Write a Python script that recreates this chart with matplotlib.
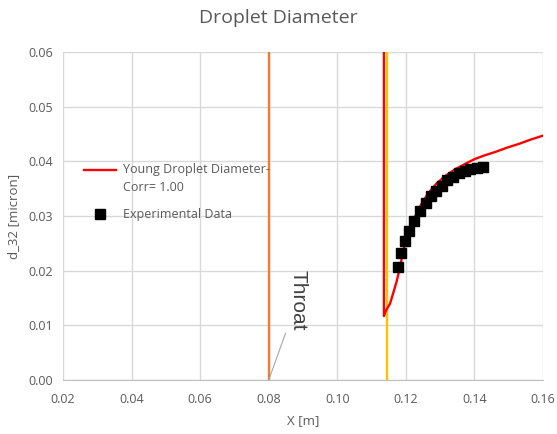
import matplotlib.pyplot as plt
import matplotlib.lines as mlines

plt.rcParams['font.family'] = ['Open Sans', 'DejaVu Sans']

# Young droplet diameter model curve (after condensation onset)
young_x = [0.1140, 0.1154, 0.1163, 0.1173, 0.1183, 0.1193, 0.1207, 0.1227,
           0.1246, 0.1266, 0.1290, 0.1319, 0.1345, 0.1375, 0.1400, 0.1430,
           0.1460, 0.1495, 0.1530, 0.1565, 0.1600]
young_d = [0.0125, 0.0140, 0.0159, 0.0180, 0.0207, 0.0238, 0.0268, 0.0299,
           0.0323, 0.0342, 0.0360, 0.0375, 0.0386, 0.0396, 0.0404, 0.0411,
           0.0417, 0.0425, 0.0432, 0.0440, 0.0447]
# Vertical part of the model curve at the onset
young_jump_x = [0.1136, 0.1136, 0.1140]
young_jump_d = [0.0600, 0.0117, 0.0125]

# Experimental d_32 measurements
exp_x = [0.1176, 0.1186, 0.1197, 0.1209, 0.1224, 0.1241, 0.1258, 0.1273,
         0.1289, 0.1304, 0.1321, 0.1338, 0.1355, 0.1371, 0.1388, 0.1406, 0.1424]
exp_d = [0.0206, 0.0232, 0.0254, 0.0273, 0.0291, 0.0309, 0.0324, 0.0337,
         0.0346, 0.0355, 0.0365, 0.0372, 0.0378, 0.0382, 0.0386, 0.0388, 0.0390]

throat_x = 0.08
onset_x = 0.1145

x_ticks = [0.02, 0.04, 0.06, 0.08, 0.10, 0.12, 0.14, 0.16]
y_ticks = [0.00, 0.01, 0.02, 0.03, 0.04, 0.05, 0.06]

text_color = '#595959'
grid_color = '#d9d9d9'

fig = plt.figure(figsize=(5.57, 4.34), dpi=100)
ax = fig.add_axes([0.1131, 0.1244, 0.8618, 0.7558])

ax.axvline(throat_x, color='#ED7D31', lw=1.7, zorder=3)
ax.axvline(onset_x, color='#FFC000', lw=1.7, zorder=3)
ax.plot(young_jump_x, young_jump_d, color='#FF0000', lw=1.7, zorder=4)
ax.plot(young_x, young_d, color='#FF0000', lw=1.7, zorder=4)
ax.plot(exp_x, exp_d, 's', color='black', ms=6.5, ls='none', zorder=5)

ax.set_xlim(0.02, 0.16)
ax.set_ylim(0, 0.06)
ax.set_xticks(x_ticks)
ax.set_yticks(y_ticks)
ax.set_xticklabels([f'{v:.2f}' for v in x_ticks])
ax.set_yticklabels([f'{v:.2f}' for v in y_ticks])
ax.tick_params(colors=text_color, labelsize=9, length=0)
ax.tick_params(axis='x', pad=9)
ax.tick_params(axis='y', pad=7)
ax.grid(True, color=grid_color, lw=1)
ax.set_axisbelow(True)
for side in ['top', 'right', 'left']:
    ax.spines[side].set_visible(False)
ax.spines['bottom'].set_color('#bfbfbf')

ax.set_xlabel('X [m]', color=text_color, fontsize=9.5, labelpad=6)
ax.set_ylabel('d_32 [micron]', color=text_color, fontsize=9.5, labelpad=6)
fig.text(0.5, 0.958, 'Droplet Diameter', ha='center', va='center',
         color=text_color, fontsize=14)

# Throat label with leader line
ax.annotate('Throat', xy=(throat_x, 0.0), xytext=(0.0884, 0.0091),
            rotation=-90, ha='center', va='bottom', fontsize=15,
            family='Liberation Sans', color='#404040',
            arrowprops=dict(arrowstyle='-', color='#a6a6a6', lw=0.8,
                            shrinkA=0, shrinkB=0))

h_line = mlines.Line2D([], [], color='#FF0000', lw=1.7)
h_mark = mlines.Line2D([], [], color='black', marker='s', ms=6.5, ls='none')
leg = ax.legend([h_line, h_mark],
                ['Young Droplet Diameter-\nCorr= 1.00', 'Experimental Data'],
                loc='upper left', bbox_to_anchor=(0.02, 0.695), frameon=False,
                fontsize=9, labelcolor=text_color, handlelength=2.6,
                handletextpad=0.5, labelspacing=1.15)
leg.get_texts()[0].set_linespacing(1.45)
# keep the line swatch level with the first text line
ln = leg.legend_handles[0]
ln.set_ydata([v + 6.5 for v in ln.get_ydata()])

fig.savefig('out.png', dpi=100)
